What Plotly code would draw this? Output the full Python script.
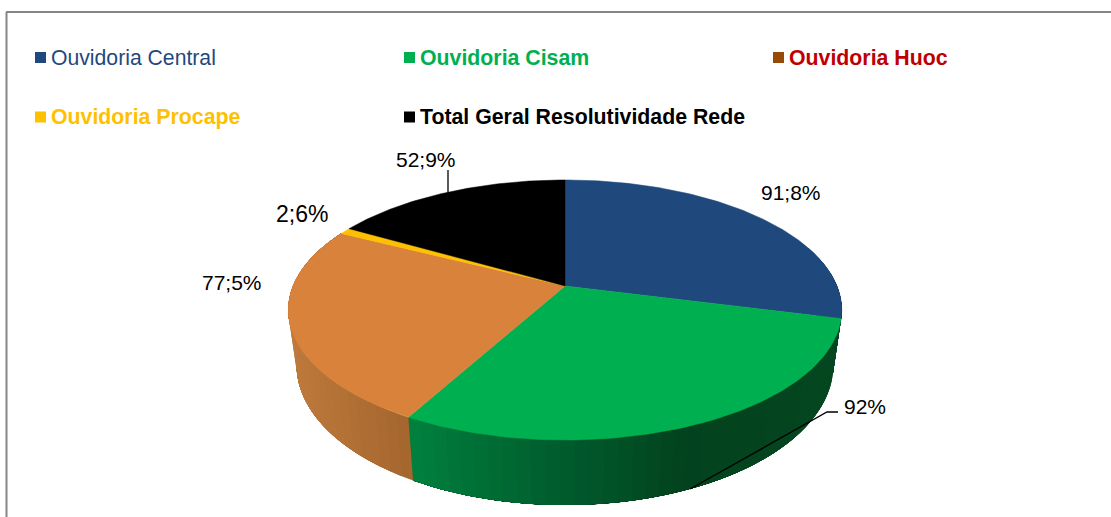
import numpy as np
import plotly.graph_objects as go

# ---- data ----
names = ["Ouvidoria Central", "Ouvidoria Cisam", "Ouvidoria Huoc",
         "Ouvidoria Procape", "Total Geral Resolutividade Rede"]
values = [91.8, 92.0, 77.5, 2.6, 52.9]
value_labels = ["91;8%", "92%", "77;5%", "2;6%", "52;9%"]

# ---- styles ----
top_colors = ["#1F497D", "#00B050", "#D9823B", "#FFC000", "#000000"]
legend_colors = ["#1F497D", "#00B050", "#984807", "#FFC000", "#000000"]
text_colors = ["#1F497D", "#00B050", "#C00000", "#FFC000", "#000000"]
legend_bold = [False, True, True, True, True]
legend_marker_x = [40.5, 409.5, 778.5, 40.5, 409.5]
legend_marker_y = [57.5, 57.5, 57.5, 117, 117]
legend_text_x = [49, 418, 787, 49, 418]
label_x = [791, 865, 232, 302, 426]
label_y = [192, 406, 282, 214, 159]
label_size = [21, 21, 21, 23, 21]

CX, CY, R, A, K, DEPTH, BOTTOM_SCALE = 565, 286, 272, 125.6, 0.1846, 53, 0.97


def project(theta_deg, down=0.0):
    t = np.radians(theta_deg)
    u, v = np.sin(t), -np.cos(t)
    w = 1.0 / (1.0 - K * v)
    scale = BOTTOM_SCALE if down else 1.0
    return CX + R * u * w * scale, CY + A * v * w + down * w


def lerp_hex(stops, x):
    xs = [s[0] for s in stops]
    chans = [np.interp(x, xs, [s[1][i] for s in stops]) for i in range(3)]
    return "rgb(%d,%d,%d)" % tuple(int(round(c)) for c in chans)


side_stops = {
    0: [(800, (31, 73, 125)), (845, (22, 55, 95))],
    1: [(408, (0, 128, 62)), (570, (0, 90, 44)), (690, (3, 66, 30)), (845, (4, 71, 31))],
    2: [(288, (190, 122, 60)), (412, (163, 101, 45))],
    3: [(288, (190, 150, 20)), (412, (190, 150, 20))],
    4: [(288, (0, 0, 0)), (412, (0, 0, 0))],
}

fig = go.Figure()
edges = np.concatenate([[0], np.cumsum(values)]) * 360.0 / np.sum(values)

# side wall: bands overlap the next one so no seams show
for i in range(len(values)):
    a0, a1 = edges[i], edges[i + 1]
    steps = max(2, int((a1 - a0) / 2.5))
    angs = np.linspace(a0, a1, steps + 1)
    for j in range(steps):
        s0, s1 = angs[j], angs[j + 1]
        mid = (s0 + s1) / 2
        if np.cos(np.radians(mid)) > 0.35:
            continue
        # the band always reaches the slice's end, later bands paint over it
        arc = np.linspace(s0, a1, 60)
        tx, ty = project(arc)
        bx, by = project(arc[::-1], DEPTH)
        xm = float(project(mid)[0])
        col = lerp_hex(side_stops[i], xm)
        fig.add_trace(go.Scatter(x=np.r_[tx, bx, tx[0]], y=np.r_[ty, by, ty[0]],
                                 mode="lines", fill="toself", fillcolor=col,
                                 line=dict(width=0), hoverinfo="skip", showlegend=False))

# top face
for i in range(len(values)):
    angs = np.linspace(edges[i], edges[i + 1], 120)
    px, py = project(angs)
    fig.add_trace(go.Scatter(x=np.r_[CX, px, CX], y=np.r_[CY, py, CY],
                             mode="lines", fill="toself", fillcolor=top_colors[i],
                             line=dict(color=top_colors[i], width=0.5),
                             name=names[i], hoverinfo="name", showlegend=False))

# leader lines
for lx, ly in [([448, 448], [170, 193]), ([838, 827, 690], [412, 412, 489])]:
    fig.add_trace(go.Scatter(x=lx, y=ly, mode="lines", line=dict(color="#000000", width=1.3),
                             hoverinfo="skip", showlegend=False))

# legend markers
fig.add_trace(go.Scatter(x=legend_marker_x, y=legend_marker_y, mode="markers",
                         marker=dict(symbol="square", size=11, color=legend_colors),
                         hoverinfo="skip", showlegend=False))

ann = []
for i, n in enumerate(names):
    ann.append(dict(x=legend_text_x[i], y=legend_marker_y[i], text=f"<b>{n}</b>" if legend_bold[i] else n,
                    xanchor="left", yanchor="middle", showarrow=False,
                    font=dict(family="Liberation Sans", size=21.3 if legend_bold[i] else 21.2, color=text_colors[i])))
    ann.append(dict(x=label_x[i], y=label_y[i], text=value_labels[i], showarrow=False,
                    xanchor="center", yanchor="middle",
                    font=dict(family="Liberation Sans", size=label_size[i], color="#000000")))

# frame
shapes = [dict(type="line", x0=6.5, x1=6.5, y0=12, y1=517, line=dict(color="#868686", width=2)),
          dict(type="line", x0=6, x1=1111, y0=12, y1=12, line=dict(color="#868686", width=2))]

fig.update_layout(width=1111, height=517, margin=dict(l=0, r=0, t=0, b=0),
                  paper_bgcolor="white", plot_bgcolor="white", showlegend=False,
                  xaxis=dict(range=[0, 1111], visible=False, fixedrange=True),
                  yaxis=dict(range=[517, 0], visible=False, fixedrange=True),
                  annotations=ann, shapes=shapes)
fig.write_html("out.html", config={"displayModeBar": False},
               post_script="document.body.style.margin='0';document.body.style.overflow='hidden';")
